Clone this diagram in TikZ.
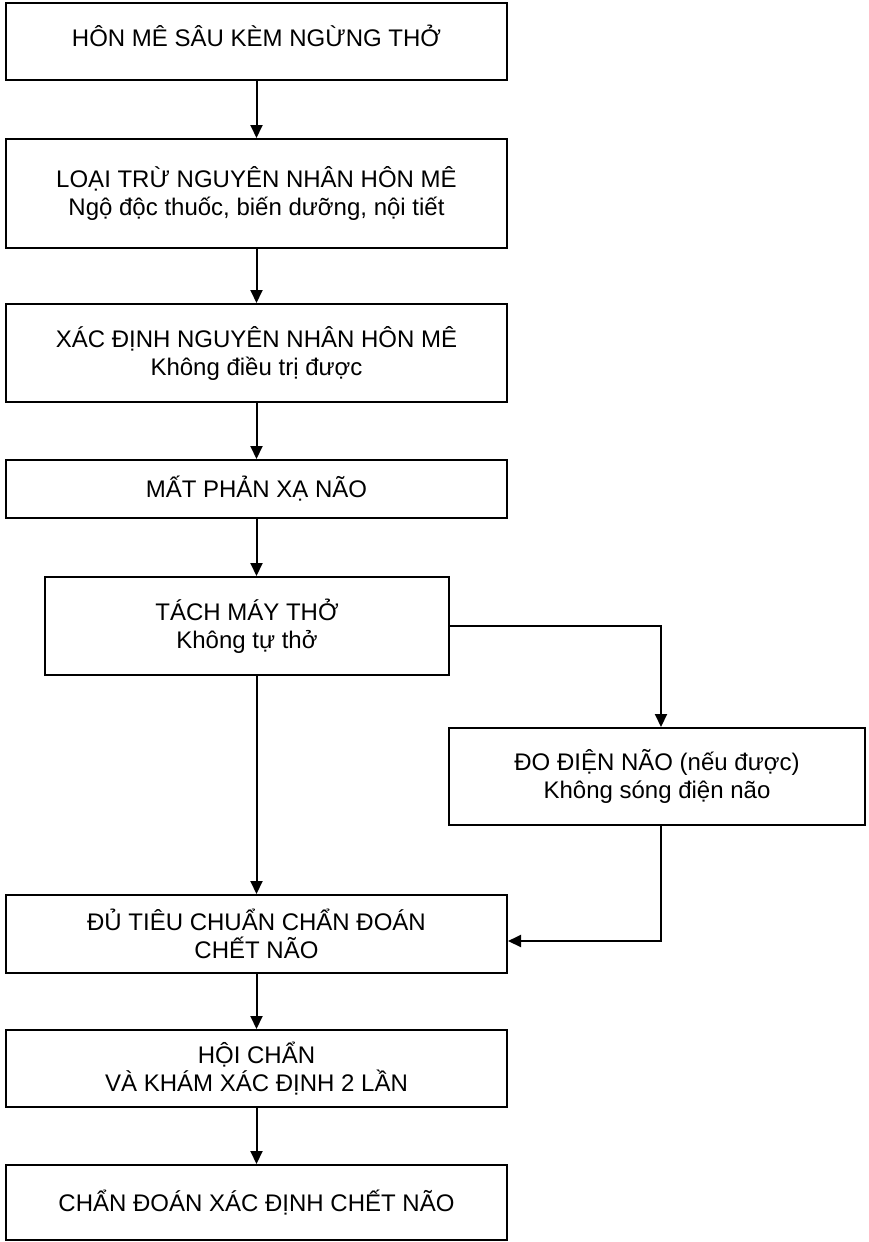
\documentclass[tikz,border=0pt]{standalone}
\usepackage{fontspec}
\setmainfont{Liberation Sans}
\usetikzlibrary{arrows.meta,calc}
\begin{document}
\begin{tikzpicture}[x=1pt,y=-1pt,
  box/.style={draw=black,line width=2pt,rectangle,inner sep=0pt,align=center,
    font=\fontsize{24}{28}\selectfont},
  wide/.style={minimum width=501pt},
  flow/.style={line width=2pt,-{Triangle[length=13pt,width=12pt]}}]
\useasboundingbox (0,0) rectangle (869,1242);

% main column of steps
\node[box,wide,minimum height=77pt,text height=17pt,text depth=7pt] (b1) at (256.5,41.5)
  {HÔN MÊ SÂU KÈM NGỪNG THỞ};
\node[box,wide,minimum height=109pt] (b2) at (256.5,193.5)
  {LOẠI TRỪ NGUYÊN NHÂN HÔN MÊ\\Ngộ độc thuốc, biến dưỡng, nội tiết};
\node[box,wide,minimum height=98pt] (b3) at (256.5,353)
  {XÁC ĐỊNH NGUYÊN NHÂN HÔN MÊ\\Không điều trị được};
\node[box,wide,minimum height=58pt,text height=17pt,text depth=0pt] (b4) at (256.5,489)
  {MẤT PHẢN XẠ NÃO};
\node[box,minimum width=404pt,minimum height=98pt] (b5) at (247,626)
  {TÁCH MÁY THỞ\\Không tự thở};
\node[box,minimum width=416pt,minimum height=97pt] (b6) at (657,776.5)
  {ĐO ĐIỆN NÃO (nếu được)\\Không sóng điện não};
\node[box,wide,minimum height=78pt] (b7) at (256.5,934)
  {ĐỦ TIÊU CHUẨN CHẨN ĐOÁN\\CHẾT NÃO};
\node[box,wide,minimum height=77pt] (b8) at (256.5,1068.5)
  {HỘI CHẨN\\VÀ KHÁM XÁC ĐỊNH 2 LẦN};
\node[box,wide,minimum height=75pt,text height=17pt,text depth=0pt] (b9) at (256.5,1202.5)
  {CHẨN ĐOÁN XÁC ĐỊNH CHẾT NÃO};

% arrows
\draw[flow] (b1) -- (b2);
\draw[flow] (b2) -- (b3);
\draw[flow] (b3) -- (b4);
\draw[flow] (b4.south) -- (b4.south |- b5.north);
\draw[flow] (b4.south |- b5.south) -- (b4.south |- b7.north);
\draw[flow] (b5.east) -| ([xshift=4pt]b6.north);
\draw[flow] ([xshift=4pt]b6.south) |- ([yshift=-7pt]b7.east);
\draw[flow] (b7) -- (b8);
\draw[flow] (b8) -- (b9);
\end{tikzpicture}
\end{document}
